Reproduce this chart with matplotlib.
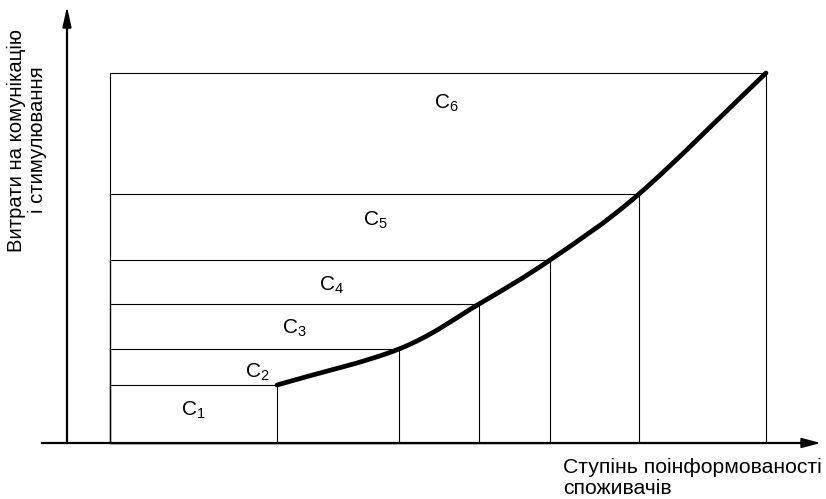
import numpy as np
import matplotlib
matplotlib.use("Agg")
import matplotlib.pyplot as plt
from matplotlib.patches import Rectangle, FancyArrow
from matplotlib.path import Path
from matplotlib.patches import PathPatch

plt.rcParams['font.family'] = ['Liberation Sans', 'DejaVu Sans']
plt.rcParams['mathtext.fontset'] = 'custom'
plt.rcParams['mathtext.rm'] = 'Liberation Sans'
plt.rcParams['mathtext.it'] = 'Liberation Sans'

# Cost levels C1..C6 and the informedness breakpoints where each level ends
labels = ['C$_1$', 'C$_2$', 'C$_3$', 'C$_4$', 'C$_5$', 'C$_6$']
informedness = [210, 332, 412, 483, 572, 699]
costs = [58, 94, 139, 183, 249, 370]
start_x = 43

# where the level names sit
label_x = [126, 190, 227, 265, 308, 379]
label_y = [33, 71, 115, 158, 223, 340]

x_title = 'Ступінь поінформованості\nспоживачів'
y_title = 'Витрати на комунікацію\nі стимулювання'

fig = plt.figure(figsize=(8.26, 4.99), dpi=100)
ax = fig.add_axes([0, 0, 1, 1])
ax.set_xlim(-67, 759)
ax.set_ylim(-56, 443)
ax.axis('off')

# nested cost rectangles, largest first
for xr, yt in sorted(zip(informedness, costs), reverse=True):
    ax.add_patch(Rectangle((start_x, 0), xr - start_x, yt, fill=False,
                           edgecolor='black', linewidth=0.8))

# smooth thick curve through the corners (Catmull-Rom as cubic Beziers)
pts = np.column_stack([informedness, costs]).astype(float)
ext = np.vstack([2 * pts[0] - pts[1], pts, 2 * pts[-1] - pts[-2]])
verts = [tuple(pts[0])]
codes = [Path.MOVETO]
for i in range(1, len(ext) - 2):
    p0, p1, p2, p3 = ext[i - 1], ext[i], ext[i + 1], ext[i + 2]
    verts += [tuple(p1 + (p2 - p0) / 6), tuple(p2 - (p3 - p1) / 6), tuple(p2)]
    codes += [Path.CURVE4] * 3
ax.add_patch(PathPatch(Path(verts, codes), fill=False, edgecolor='black',
                       linewidth=3.4, capstyle='round', joinstyle='round'))

# axes with arrowheads
ax.plot([-25, 740], [0, 0], color='black', linewidth=1.6)
ax.plot([0, 0], [0, 420], color='black', linewidth=1.6)
ax.add_patch(FancyArrow(735, 0, 16, 0, width=0, head_width=9, head_length=17,
                        length_includes_head=True, color='black'))
ax.add_patch(FancyArrow(0, 415, 0, 18, width=0, head_width=8, head_length=18,
                        length_includes_head=True, color='black'))

for lab, lx, ly in zip(labels, label_x, label_y):
    ax.text(lx, ly, lab, fontsize=15, ha='center', va='center')

ax.text(496, -35, x_title, fontsize=15.2, ha='left', va='center',
        linespacing=1.1)
ax.text(-40, 303, y_title, fontsize=14.6, ha='center', va='center',
        rotation=90, linespacing=1.15)

fig.savefig('out.png', dpi=100)
